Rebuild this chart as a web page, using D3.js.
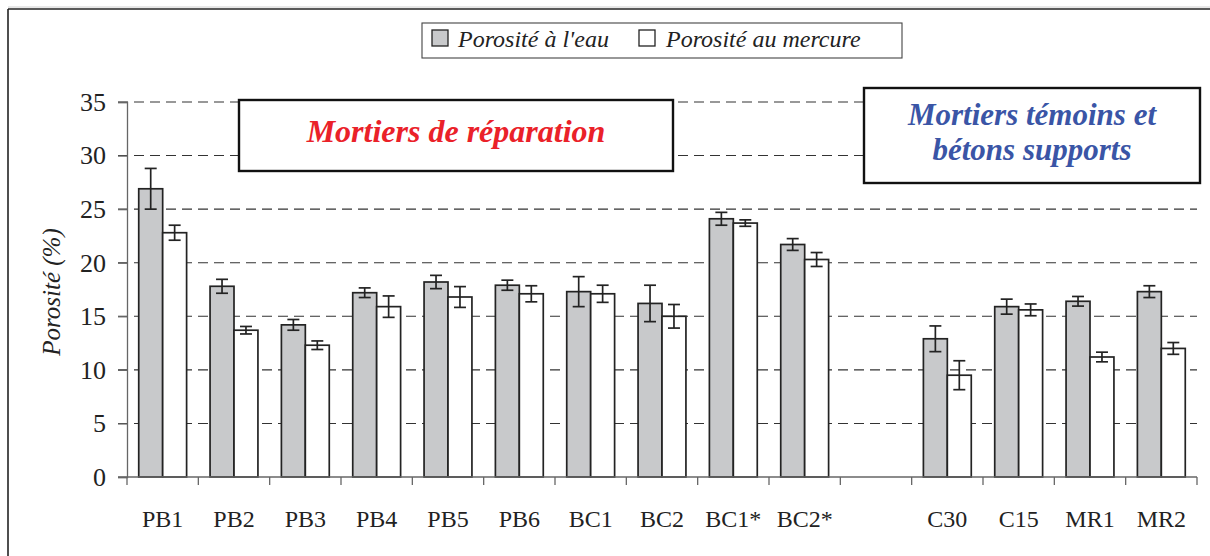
<!DOCTYPE html>
<html>
<head>
<meta charset="utf-8">
<script src="https://cdn.jsdelivr.net/npm/d3@7"></script>
<style>
  html, body { margin: 0; padding: 0; background: #fff; }
  svg { display: block; font-family: 'Liberation Serif', serif; }
</style>
</head>
<body>
<svg id="chart" width="1210" height="556"></svg>
<script>
// Categories (the blank entry leaves an empty slot between the two groups)
const categories = ["PB1", "PB2", "PB3", "PB4", "PB5", "PB6", "BC1", "BC2", "BC1*", "BC2*", "", "C30", "C15", "MR1", "MR2"];
const seriesNames = ["Porosité à l'eau", "Porosité au mercure"];

// Porosity (%) and error-bar half-widths
const eau        = [26.9, 17.8, 14.2, 17.2, 18.2, 17.9, 17.3, 16.2, 24.1, 21.7, null, 12.9, 15.9, 16.4, 17.3];
const eauErr     = [1.9, 0.65, 0.5, 0.45, 0.62, 0.47, 1.4, 1.7, 0.6, 0.55, null, 1.2, 0.7, 0.45, 0.55];
const mercure    = [22.8, 13.7, 12.3, 15.9, 16.8, 17.1, 17.1, 15.0, 23.7, 20.3, null, 9.5, 15.6, 11.2, 12.0];
const mercureErr = [0.7, 0.35, 0.4, 1.0, 0.97, 0.75, 0.8, 1.1, 0.3, 0.65, null, 1.35, 0.55, 0.45, 0.55];

const yTicks = [0, 5, 10, 15, 20, 25, 30, 35];
const groupLabels = [
  { lines: ["Mortiers de réparation"], color: "#ea2129", size: 32 },
  { lines: ["Mortiers témoins et", "bétons supports"], color: "#3a55a6", size: 31 }
];

const FONT = "'Liberation Serif', serif";
const svg = d3.select("#chart");
const fills = ["#c8c9cb", "#ffffff"];
const ink = "#232323";

const plot = { left: 127, right: 1197, top: 102, bottom: 477 };

const x0 = d3.scaleBand().domain(categories).range([plot.left, plot.right]).padding(0);
const x1 = d3.scaleBand().domain([0, 1]).range([0, x0.bandwidth()]).paddingInner(0).paddingOuter(0.49);
const y = d3.scaleLinear().domain([0, 35]).range([plot.bottom, plot.top]);

// Outer frame (top and left edges)
svg.append("line").attr("x1", 8).attr("x2", 1210).attr("y1", 7).attr("y2", 7)
  .attr("stroke", "#d0d0d0").attr("stroke-width", 1);
svg.append("line").attr("x1", 8).attr("x2", 1210).attr("y1", 9).attr("y2", 9)
  .attr("stroke", ink).attr("stroke-width", 1.6);
svg.append("line").attr("x1", 8).attr("x2", 8).attr("y1", 9).attr("y2", 556)
  .attr("stroke", ink).attr("stroke-width", 1.6);

// Dashed gridlines
svg.append("g").selectAll("line").data(yTicks.filter(d => d > 0)).join("line")
  .attr("x1", plot.left - 9).attr("x2", plot.right)
  .attr("y1", d => y(d)).attr("y2", d => y(d))
  .attr("stroke", "#333").attr("stroke-width", 1.1).attr("stroke-dasharray", "10,6");

// Y axis
const yAxis = svg.append("g").attr("transform", `translate(${plot.left},0)`)
  .call(d3.axisLeft(y).tickValues(yTicks).tickSize(9).tickPadding(12).tickFormat(d3.format("d")));
yAxis.attr("font-family", null).attr("font-size", null);
yAxis.select(".domain").attr("stroke", "#666").attr("stroke-width", 1.3);
yAxis.selectAll(".tick line").attr("stroke", "#666").attr("stroke-width", 1.3);
yAxis.selectAll(".tick text").style("font-family", FONT).style("font-size", "26px").attr("fill", "#222");

svg.append("text")
  .attr("transform", `translate(60,292) rotate(-90)`)
  .attr("text-anchor", "middle").style("font-family", FONT).style("font-style", "italic").style("font-size", "25px")
  .attr("fill", "#222").text("Porosité (%)");

// Bars
const rows = categories.map((c, i) => ({ c, vals: [eau[i], mercure[i]], errs: [eauErr[i], mercureErr[i]] }));
const groups = svg.append("g").selectAll("g").data(rows.filter(r => r.vals[0] != null)).join("g")
  .attr("transform", d => `translate(${x0(d.c)},0)`);

groups.selectAll("rect").data(d => d.vals.map((v, k) => ({ v, k }))).join("rect")
  .attr("x", d => x1(d.k)).attr("width", x1.bandwidth())
  .attr("y", d => y(d.v)).attr("height", d => y(0) - y(d.v))
  .attr("fill", d => fills[d.k]).attr("stroke", ink).attr("stroke-width", 1.7);

// Error bars
const eb = groups.selectAll("g.err").data(d => d.vals.map((v, k) => ({ v, e: d.errs[k], k }))).join("g").attr("class", "err")
  .attr("stroke", ink).attr("stroke-width", 1.7);
const cx = d => x1(d.k) + x1.bandwidth() / 2;
eb.append("line").attr("x1", cx).attr("x2", cx)
  .attr("y1", d => y(d.v + d.e)).attr("y2", d => y(d.v - d.e));
eb.append("line").attr("x1", d => cx(d) - 6).attr("x2", d => cx(d) + 6)
  .attr("y1", d => y(d.v + d.e)).attr("y2", d => y(d.v + d.e));
eb.append("line").attr("x1", d => cx(d) - 6).attr("x2", d => cx(d) + 6)
  .attr("y1", d => y(d.v - d.e)).attr("y2", d => y(d.v - d.e));

// X axis: baseline, boundary ticks, category labels
svg.append("line").attr("x1", plot.left - 9).attr("x2", plot.right)
  .attr("y1", y(0)).attr("y2", y(0)).attr("stroke", "#666").attr("stroke-width", 1.3);
const bounds = categories.map(c => x0(c)).concat([x0(categories[categories.length - 1]) + x0.bandwidth()]);
svg.append("g").selectAll("line").data(bounds).join("line")
  .attr("x1", d => d).attr("x2", d => d).attr("y1", y(0)).attr("y2", y(0) + 8)
  .attr("stroke", "#666").attr("stroke-width", 1.3);
svg.append("g").selectAll("text").data(categories.filter(c => c !== "")).join("text")
  .attr("x", d => x0(d) + x0.bandwidth() / 2).attr("y", 527)
  .attr("text-anchor", "middle").style("font-family", FONT).style("font-size", "24px")
  .attr("fill", "#222").text(d => d);

// Group caption boxes
const boxes = [
  { x: 239, y: 100, w: 434, h: 71, baseline: 142, lead: 0, label: groupLabels[0] },
  { x: 864, y: 88, w: 336, h: 95, baseline: 124.5, lead: 35, label: groupLabels[1] }
];
boxes.forEach(b => {
  b.label.lines.forEach((ln, i) => {});
  svg.append("rect").attr("x", b.x).attr("y", b.y).attr("width", b.w).attr("height", b.h)
    .attr("fill", "#fff").attr("stroke", "#111").attr("stroke-width", 2.4);
  b.label.lines.forEach((ln, i) => {
    svg.append("text").attr("text-anchor", "middle")
      .attr("x", b.x + b.w / 2).attr("y", b.baseline + i * b.lead)
      .style("font-family", FONT).style("font-size", b.label.size + "px").style("font-weight", "bold")
      .style("font-style", "italic").attr("fill", b.label.color).text(ln);
  });
});

// Legend
const legend = svg.append("g");
legend.append("rect").attr("x", 422).attr("y", 23).attr("width", 480).attr("height", 35)
  .attr("fill", "#fff").attr("stroke", "#444").attr("stroke-width", 1.1);
const legendItems = [{ sx: 432, tx: 458 }, { sx: 639, tx: 666 }];
legendItems.forEach((it, k) => {
  legend.append("rect").attr("x", it.sx).attr("y", 30).attr("width", 16).attr("height", 16)
    .attr("fill", fills[k]).attr("stroke", ink).attr("stroke-width", 1.3);
  legend.append("text").attr("x", it.tx).attr("y", 47)
    .style("font-family", FONT).style("font-size", "24px").style("font-style", "italic")
    .attr("fill", "#222").text(seriesNames[k]);
});
</script>
</body>
</html>
